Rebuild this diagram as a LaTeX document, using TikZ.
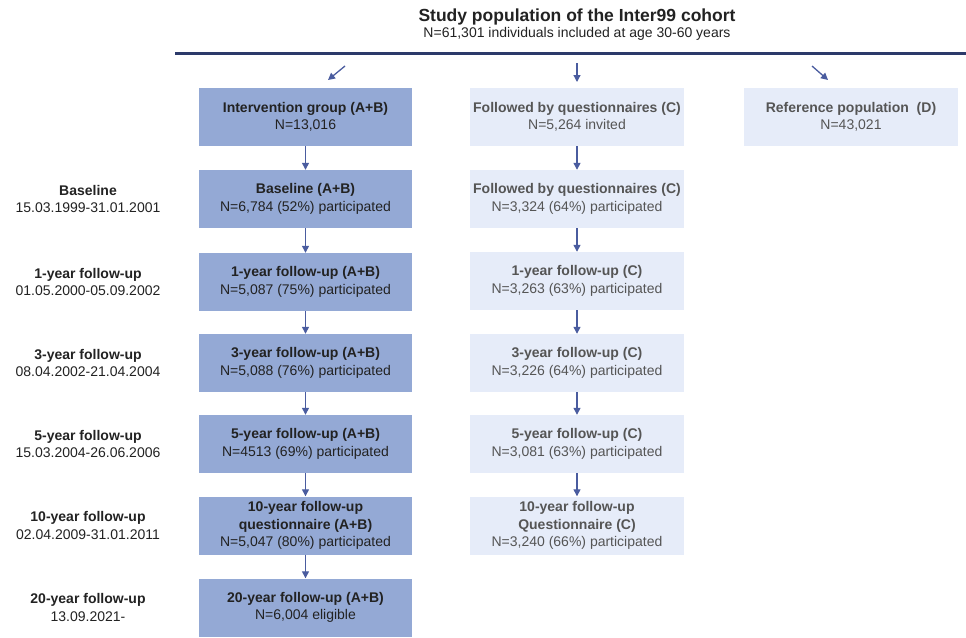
\documentclass[tikz,border=0pt]{standalone}
\usepackage{fontspec}
\setmainfont{Liberation Sans}
\usetikzlibrary{arrows.meta,positioning}
\definecolor{abfill}{HTML}{94A9D5}
\definecolor{cfill}{HTML}{E6ECF9}
\definecolor{navy}{HTML}{2C3A6A}
\definecolor{arrowblue}{HTML}{4A5C9F}
\definecolor{ink}{HTML}{222222}
\definecolor{muted}{HTML}{555555}

\begin{document}
\begin{tikzpicture}[x=1pt,y=-1pt,font=\fontsize{14}{17.5}\selectfont,>={Triangle[length=7pt,width=7pt]},
abbox/.style={fill=abfill,text=ink,minimum width=213pt,minimum height=58pt,align=center,inner sep=0pt},
cbox/.style={fill=cfill,text=muted,minimum width=214pt,minimum height=58pt,align=center,inner sep=0pt},
phase/.style={text=ink,align=center},
flow/.style={->,arrowblue,line width=1.3pt}]
  \useasboundingbox (0,0) rectangle (966,637);
  % header
  \node[ink,font=\fontsize{17.5}{20}\selectfont\bfseries] (title) at (577,17) {Study population of the Inter99 cohort};
  \node[ink,font=\fontsize{14}{16}\selectfont] (subtitle) at (577,34) {N=61,301 individuals included at age 30-60 years};
  \draw[navy,line width=3pt] (175,53) -- (966,53);
  \coordinate (fromab) at (345,66);
  \coordinate (fromc) at (577,63);
  \coordinate (fromd) at (812,66);
  % intervention group
  \node[abbox] (ab0) at (305.5,117) {\textbf{Intervention group (A+B)}\\N=13,016};
  \node[abbox] (ab1) at (305.5,199) {\textbf{Baseline (A+B)}\\N=6,784 (52\%) participated};
  \node[abbox] (ab2) at (305.5,282) {\textbf{1-year follow-up (A+B)}\\N=5,087 (75\%) participated};
  \node[abbox] (ab3) at (305.5,363) {\textbf{3-year follow-up (A+B)}\\N=5,088 (76\%) participated};
  \node[abbox] (ab5) at (305.5,444) {\textbf{5-year follow-up (A+B)}\\N=4513 (69\%) participated};
  \node[abbox] (ab10) at (305.5,525.5) {\textbf{10-year follow-up}\\\textbf{questionnaire (A+B)}\\N=5,047 (80\%) participated};
  \node[abbox] (ab20) at (305.5,607.5) {\textbf{20-year follow-up (A+B)}\\N=6,004 eligible};
  % questionnaire group
  \node[cbox] (c0) at (577,117) {\textbf{Followed by questionnaires (C)}\\N=5,264 invited};
  \node[cbox] (c1) at (577,199) {\textbf{Followed by questionnaires (C)}\\N=3,324 (64\%) participated};
  \node[cbox] (c2) at (577,281) {\textbf{1-year follow-up (C)}\\N=3,263 (63\%) participated};
  \node[cbox] (c3) at (577,363) {\textbf{3-year follow-up (C)}\\N=3,226 (64\%) participated};
  \node[cbox] (c5) at (577,444) {\textbf{5-year follow-up (C)}\\N=3,081 (63\%) participated};
  \node[cbox] (c10) at (577,525.5) {\textbf{10-year follow-up}\\\textbf{Questionnaire (C)}\\N=3,240 (66\%) participated};
  % reference population
  \node[cbox] (refpop) at (851,117) {\textbf{Reference population\ \ (D)}\\N=43,021};
  % time points
  \node[phase] (tbase) at (88,199) {\textbf{Baseline}\\15.03.1999-31.01.2001};
  \node[phase] (t1) at (88,282) {\textbf{1-year follow-up}\\01.05.2000-05.09.2002};
  \node[phase] (t3) at (88,363) {\textbf{3-year follow-up}\\08.04.2002-21.04.2004};
  \node[phase] (t5) at (88,444) {\textbf{5-year follow-up}\\15.03.2004-26.06.2006};
  \node[phase] (t10) at (88,525.5) {\textbf{10-year follow-up}\\02.04.2009-31.01.2011};
  \node[phase] (t20) at (88,607.5) {\textbf{20-year follow-up}\\13.09.2021-};
  % arrows
  \draw[flow] (fromab) -- (328,80);
  \draw[flow] (fromc) -- (577,82);
  \draw[flow] (fromd) -- (828,80);
  \draw[flow] (ab0) -- (ab1);
  \draw[flow] (ab1) -- (ab2);
  \draw[flow] (ab2) -- (ab3);
  \draw[flow] (ab3) -- (ab5);
  \draw[flow] (ab5) -- (ab10);
  \draw[flow] (ab10) -- (ab20);
  \draw[flow] (c0) -- (c1);
  \draw[flow] (c1) -- (c2);
  \draw[flow] (c2) -- (c3);
  \draw[flow] (c3) -- (c5);
  \draw[flow] (c5) -- (c10);
\end{tikzpicture}
\end{document}
